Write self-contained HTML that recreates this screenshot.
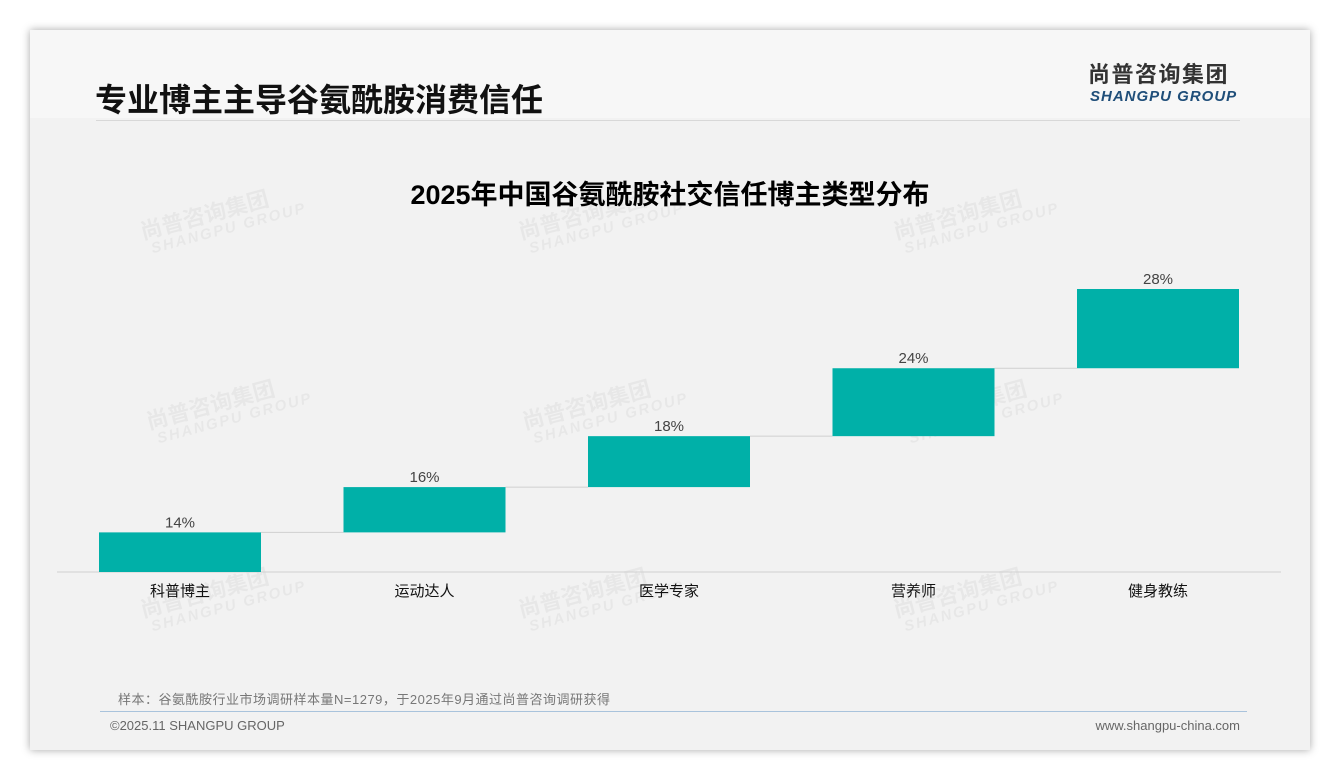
<!DOCTYPE html>
<html><head><meta charset="utf-8">
<style>
body{margin:0;width:1340px;height:780px;background:#fff;position:relative;overflow:hidden;font-family:"Liberation Sans","Noto Sans CJK SC",sans-serif;}
#card{position:absolute;left:30px;top:30px;width:1280px;height:720px;background:#f2f2f2;box-shadow:0 0 8px rgba(0,0,0,0.35);}
#head{position:absolute;left:0;top:0;width:1280px;height:88px;background:#f7f7f7;}
.t{position:absolute;white-space:nowrap;}
.wm{position:absolute;color:rgba(0,0,0,0.045);font-weight:bold;transform:rotate(-15deg);line-height:1;}
</style></head><body>
<div id="card">
<div id="head"></div>
<div class="t" style="left:65px;top:45px;font-size:32px;font-weight:bold;color:#111;">专业博主主导谷氨酰胺消费信任</div>
<div style="position:absolute;left:66px;top:90px;width:1144px;height:1px;background:#d8d8d8;"></div>
<div class="t" style="left:1058px;top:31px;font-size:22px;line-height:28px;font-weight:bold;color:#333;letter-spacing:1.5px;">尚普咨询集团</div>
<div class="t" style="left:1060px;top:58px;font-size:15px;line-height:18px;font-weight:bold;font-style:italic;color:#1f4e79;letter-spacing:1px;">SHANGPU GROUP</div>
<div class="t" style="left:0;width:1280px;text-align:center;top:143px;font-size:27px;font-weight:bold;color:#000;">2025年中国谷氨酰胺社交信任博主类型分布</div>
<div class="t" style="left:88px;top:659px;font-size:13px;letter-spacing:0.5px;color:#777;">样本：谷氨酰胺行业市场调研样本量N=1279，于2025年9月通过尚普咨询调研获得</div>
<div style="position:absolute;left:70px;top:681px;width:1147px;height:1px;background:#a9c3dc;"></div>
<div class="t" style="left:80px;top:688px;font-size:13px;color:#666;">©2025.11 SHANGPU GROUP</div>
<div class="t" style="left:1040px;width:170px;text-align:right;top:688px;font-size:13px;color:#666;">www.shangpu-china.com</div>
</div>
<div id="wms"></div>
<svg id="chart" width="1340" height="780" style="position:absolute;left:0;top:0;"></svg>
<script>
const categories=["科普博主","运动达人","医学专家","营养师","健身教练"];
const values=[14,16,18,24,28];
const valueLabels=["14%","16%","18%","24%","28%"];
const NS="http://www.w3.org/2000/svg";
const svg=document.getElementById('chart');
const base=572, scale=2.83, x0=99, step=244.5, bw=162;
const y=v=>base-v*scale;
const xb=i=>x0+i*step;
function mk(tag,attrs){const e=document.createElementNS(NS,tag);for(const k in attrs)e.setAttribute(k,attrs[k]);svg.appendChild(e);return e;}
const ax=mk('line',{x1:57,x2:1281,y1:base,y2:base,stroke:'#d0d0d0','stroke-width':1});


let cum=0;
values.forEach((v,i)=>{
  const top=y(cum+v), bot=y(cum);
  const r=mk('rect',{x:xb(i),y:top,width:bw,height:bot-top,fill:'#00b0a8'});
  
  
  if(i<values.length-1){
    const c=mk('line',{x1:xb(i)+bw,x2:xb(i+1),y1:top,y2:top,stroke:'#d0d0d0','stroke-width':1});
    
    
  }
  const t=mk('text',{x:xb(i)+bw/2,y:top-5,'text-anchor':'middle','font-size':15,fill:'#444','font-family':'Liberation Sans, sans-serif'});
  t.textContent=valueLabels[i];
  
  
  const c2=mk('text',{x:xb(i)+bw/2,y:base+24,'text-anchor':'middle','font-size':15,fill:'#111','font-family':'Liberation Sans, Noto Sans CJK SC, sans-serif'});
  c2.textContent=categories[i];
  
  
  cum+=v;
});
const wmPos=[[140,200],[518,200],[893,200],[146,390],[522,390],[898,390],[140,578],[518,578],[893,578]];
const wms=document.getElementById('wms');
wmPos.forEach(p=>{
  const d=document.createElement('div');
  d.className='wm';
  
  
  d.style.left=p[0]+'px';d.style.top=p[1]+'px';
  d.innerHTML='<div style="font-size:22px">尚普咨询集团</div><div style="font-size:15px;font-style:italic;letter-spacing:2px;margin-left:6px">SHANGPU GROUP</div>';
  wms.appendChild(d);
});
</script>
</body></html>
